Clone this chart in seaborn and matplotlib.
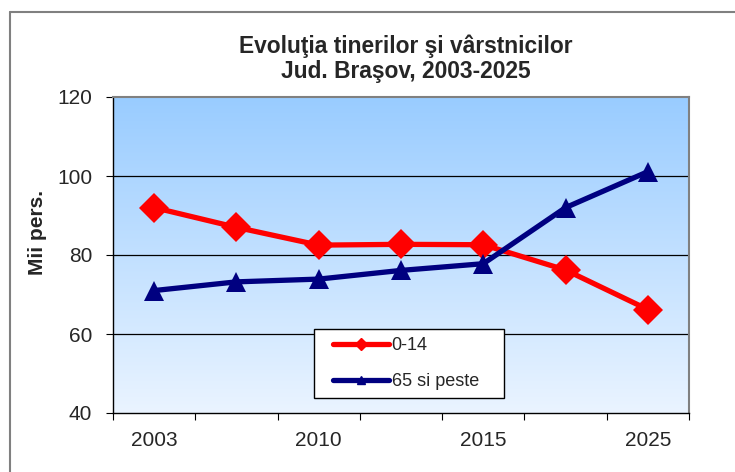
import numpy as np
import pandas as pd
import matplotlib
matplotlib.use("Agg")
import matplotlib.pyplot as plt
from matplotlib.colors import LinearSegmentedColormap
from matplotlib.lines import Line2D
from matplotlib.legend_handler import HandlerLine2D
import seaborn as sns

# ----------------------------------------------------------------------
# Date (mii persoane)
# ----------------------------------------------------------------------
ani = ["2003", "2007", "2010", "2012", "2015", "2020", "2025"]
etichete_x = ["2003", "", "2010", "", "2015", "", "2025"]
tineri = [92.0, 87.0, 82.5, 82.7, 82.6, 76.2, 66.2]        # 0-14
varstnici = [71.0, 73.2, 73.9, 76.1, 77.8, 92.0, 101.1]    # 65 si peste

serii = ["0-14", "65 si peste"]
culori = {"0-14": "#FF0000", "65 si peste": "#000080"}
markere = {"0-14": "D", "65 si peste": "^"}

df = pd.DataFrame({
    "poz": list(range(len(ani))) * 2,
    "valoare": tineri + varstnici,
    "grupa": [serii[0]] * len(ani) + [serii[1]] * len(ani),
})

sns.set_style("white")
plt.rcParams["font.family"] = ["Liberation Sans", "DejaVu Sans"]

fig = plt.figure(figsize=(7.35, 4.72), dpi=100)
ax = fig.add_axes([113 / 735, 59 / 472, 576 / 735, 316 / 472])

# fundal in degrade (albastru sus -> aproape alb jos)
cmap_fundal = LinearSegmentedColormap.from_list("fundal", ["#EAF4FF", "#99CCFF"])
ax.imshow(np.linspace(0, 1, 256).reshape(-1, 1), cmap=cmap_fundal, origin="lower",
          extent=[-0.5, len(ani) - 0.5, 40, 120], aspect="auto", zorder=0)

for y in [60, 80, 100]:
    ax.axhline(y, color="#000000", lw=0.9, zorder=1)

sns.lineplot(data=df, x="poz", y="valoare", hue="grupa", style="grupa",
             palette=culori, markers=markere, dashes=False, lw=3.8,
             markersize=15, markeredgewidth=0, ax=ax, legend=False, zorder=3)

ax.set_xlim(-0.5, len(ani) - 0.5)
ax.set_ylim(40, 120)
ax.set_yticks([40, 60, 80, 100, 120])
ax.set_xticks(np.arange(-0.5, len(ani), 1.0))
ax.set_xticklabels([])
ax.set_xticks(range(len(ani)), minor=True)
ax.set_xticklabels(etichete_x, minor=True)
ax.tick_params(axis="x", which="major", direction="out", length=5, color="black",
               bottom=True)
ax.tick_params(axis="x", which="minor", length=0, pad=13, labelsize=15)
ax.tick_params(axis="y", direction="out", length=5, color="black", left=True,
               labelsize=15, pad=10)
ax.set_xlabel("")
ax.set_ylabel("Mii pers.", fontsize=15, fontweight="bold")
ax.yaxis.set_label_coords(-0.115, 0.57)

for s in ax.spines.values():
    s.set_color("#808080")
    s.set_linewidth(1.5)
ax.spines["left"].set_color("black")
ax.spines["left"].set_linewidth(1)
ax.spines["bottom"].set_color("black")
ax.spines["bottom"].set_linewidth(1)

# titlul pe doua randuri, aliniat pe linia de baza
fig.text(0.552, 1 - 53 / 472, "Evoluţia tinerilor şi vârstnicilor", ha="center",
         va="baseline", fontsize=16.4, fontweight="bold")
fig.text(0.552, 1 - 78 / 472, "Jud. Braşov, 2003-2025", ha="center",
         va="baseline", fontsize=16.4, fontweight="bold")

# legenda (markere mici, ca in Excel)
handles = [Line2D([0], [0], color=culori[s], lw=3.8, marker=markere[s], markersize=6)
           for s in serii]
leg = ax.legend(handles, serii, loc="lower left",
                bbox_to_anchor=(0.349, 0.047, 0.33, 0.22), mode="expand",
                borderaxespad=0, fancybox=False, framealpha=1, edgecolor="black",
                fontsize=13, handlelength=3.7, handletextpad=0.15,
                labelspacing=1.05, borderpad=0.45,
                handler_map={Line2D: HandlerLine2D(xpad=0.6)})
leg.get_frame().set_linewidth(1)
leg.set_zorder(5)

# chenarul figurii
fig.add_artist(Line2D([10 / 735, 10 / 735], [0, 1 - 12 / 472], color="#808080", lw=1.5))
fig.add_artist(Line2D([10 / 735, 1], [1 - 12 / 472, 1 - 12 / 472], color="#808080", lw=1.5))

fig.savefig("out.png", dpi=100)
